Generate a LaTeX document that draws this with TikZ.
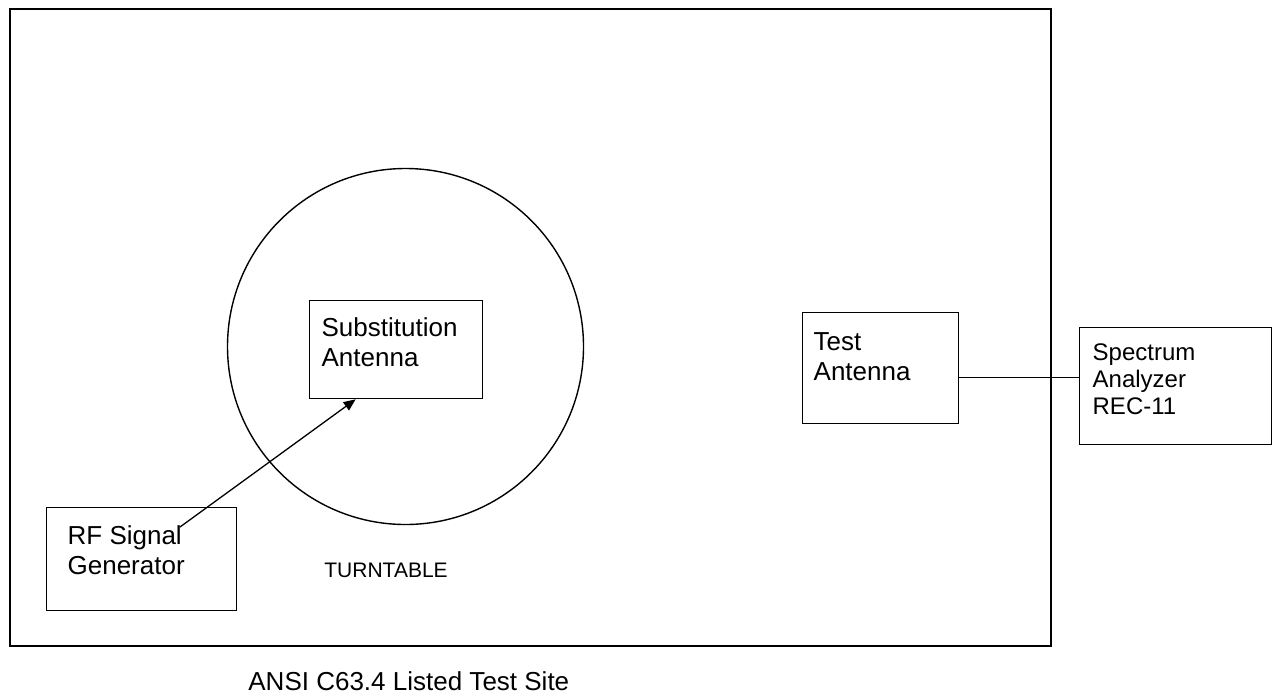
\documentclass[tikz,border=0pt]{standalone}
\usepackage{fontspec}
\setmainfont{Liberation Sans}
\usetikzlibrary{arrows.meta, positioning}

\newcommand{\boxlines}[3]{\parbox[t][#2][t]{#1}{#3}}

\begin{document}
\begin{tikzpicture}[x=0.5pt, y=-0.5pt]
\tikzset{site/.style={rectangle, draw, line width=1.2pt, inner sep=0pt, anchor=north west},
		table/.style={circle, draw, line width=0.7pt, inner sep=0pt, minimum size=178pt},
		box/.style={rectangle, draw, line width=0.65pt, anchor=north west, align=left,
			font=\fontsize{13}{15}\selectfont},
		tag/.style={inner sep=0pt, anchor=base west},
		feed/.style={line width=0.65pt}}
\useasboundingbox (0,0) rectangle (1272,696);
\node[site, minimum width=520.5pt, minimum height=318.5pt] (Site) at (9,8) {};
\node[table] (TT) at (405.5,346.5) {};
\node[box, inner xsep=6pt, inner ysep=8.5pt] (SA) at (309,300) {\boxlines{74.5pt}{32pt}{Substitution\\Antenna}};
\node[box, inner xsep=10.5pt, inner ysep=9pt] (RF) at (46,507) {\boxlines{74pt}{33.5pt}{RF Signal\\Generator}};
\node[box, inner xsep=5.5pt, inner ysep=10pt] (TA) at (802,312) {\boxlines{67pt}{35.5pt}{Test\\Antenna}};
\node[box, inner xsep=6.5pt, inner ysep=8pt, font=\fontsize{12}{13.5}\selectfont] (SP) at (1079,327) {\boxlines{83pt}{42.5pt}{Spectrum\\Analyzer\\REC-11}};
\node[tag, font=\fontsize{10.5}{12}\selectfont] (TTname) at (324,577) {TURNTABLE};
\node[tag, font=\fontsize{13}{15}\selectfont] (Sitename) at (248,690) {ANSI C63.4 Listed Test Site};
% connections
\draw[feed, -{Triangle[length=6pt, width=5pt]}] ([shift={(67pt,-10pt)}]RF.north west) -- ([xshift=-20.25pt]SA.south);
\draw[feed] ([yshift=-4.75pt]TA.east) -- ([yshift=-4.75pt]TA.east -| SP.west);
\end{tikzpicture}
\end{document}
